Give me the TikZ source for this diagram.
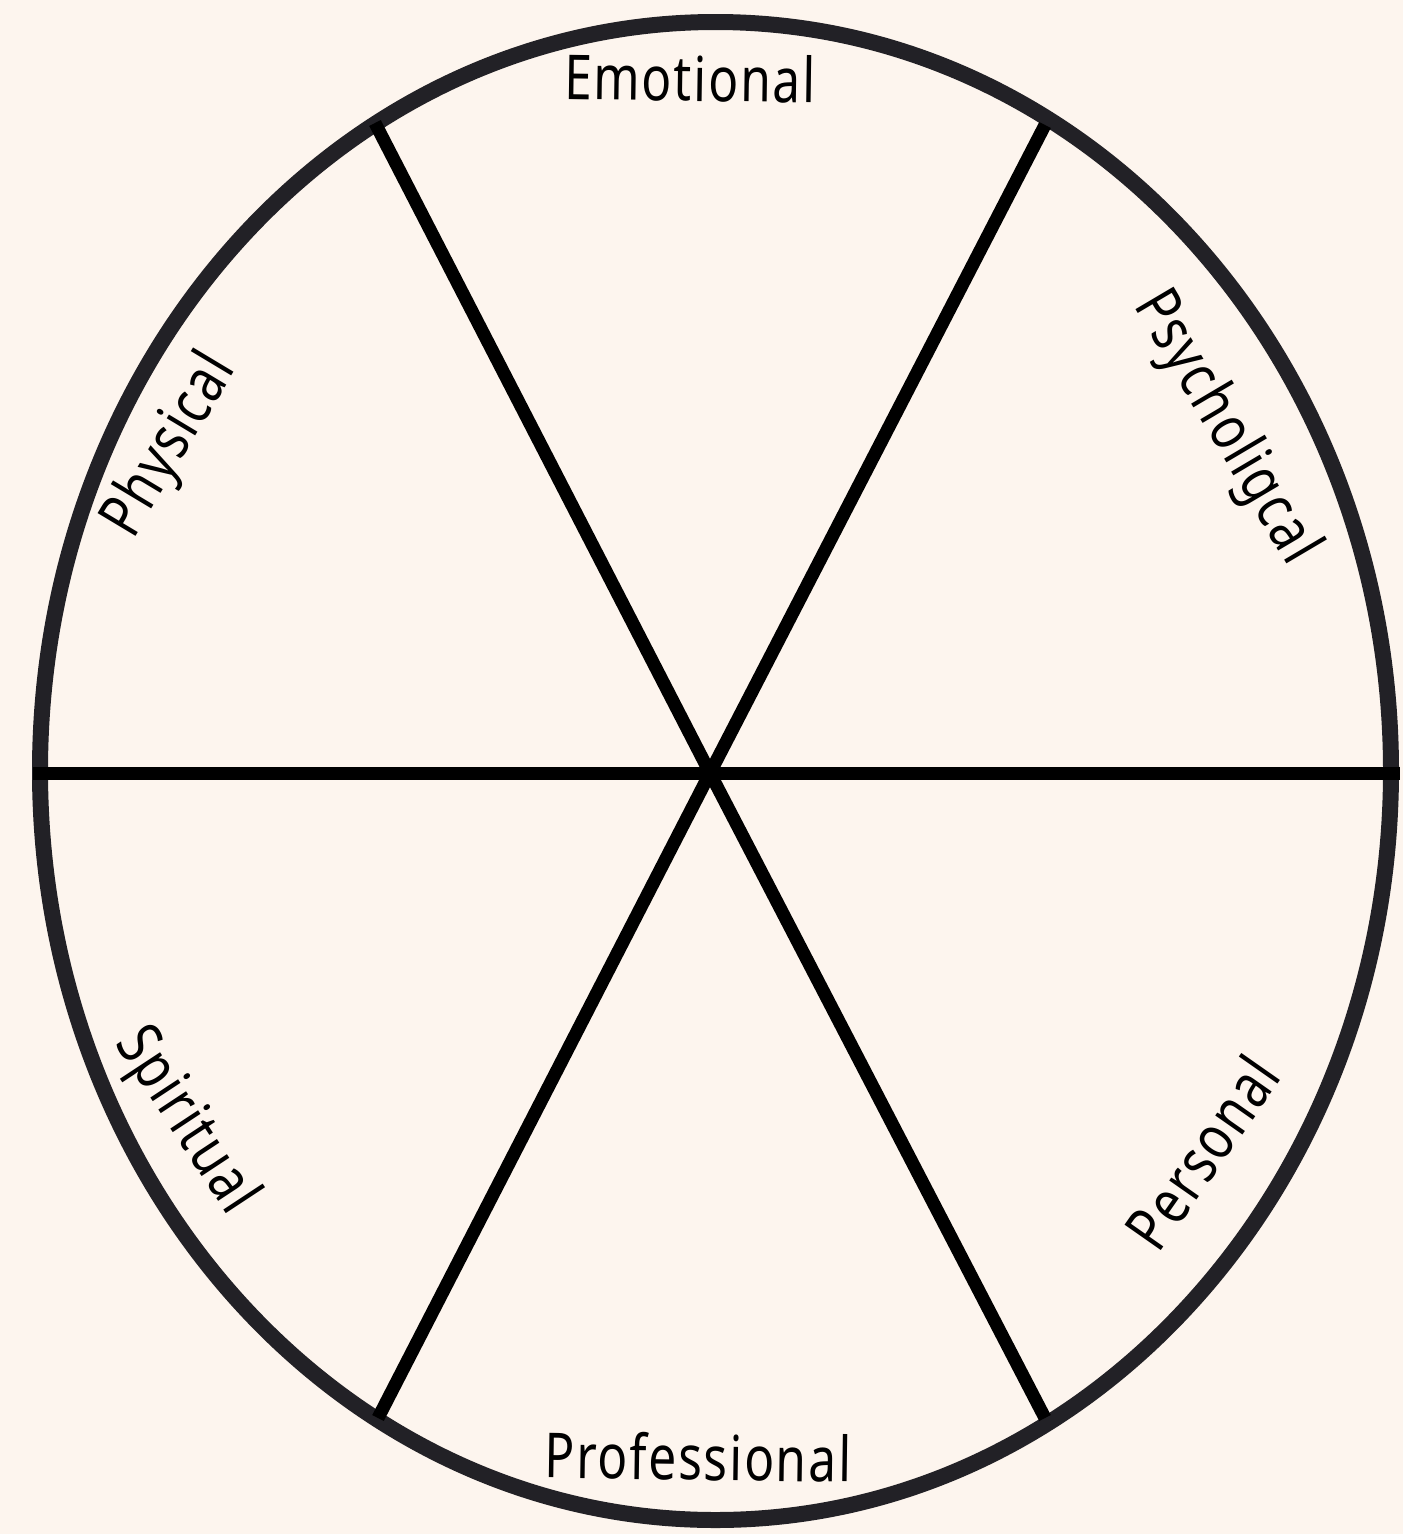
\documentclass[tikz,border=0pt]{standalone}
\usepackage{fontspec}
\setmainfont{Noto Sans}[FakeStretch=0.8,LetterSpace=3]
\definecolor{bg}{HTML}{FDF5EE}
\definecolor{rim}{HTML}{222126}
\begin{document}
\begin{tikzpicture}[x=1pt,y=-1pt,
  spoke/.style={line width=13pt,black},
  rimline/.style={line width=16pt,draw=rim},
  lbl/.style={font=\fontsize{62}{62}\selectfont,inner sep=0pt,text height=44pt,text depth=0pt,anchor=center}]
\fill[bg] (0,0) rectangle (1403,1534);
\useasboundingbox (0,0) rectangle (1403,1534);
\draw[rimline] (715.5,771) ellipse [x radius=675.5, y radius=749];
\coordinate (c) at (710,773);
\coordinate (w) at (33,773);
\coordinate (e) at (1400,773);
\coordinate (nw) at (375,123);
\coordinate (ne) at (1045,125);
\coordinate (sw) at (378,1418);
\coordinate (se) at (1045,1418);
\draw[spoke] (w) -- (e);
\draw[spoke] (nw) -- (c) -- (se);
\draw[spoke] (ne) -- (c) -- (sw);
\node[lbl,rotate=-0.8] (emo) at (690,79) {Emotional};
\node[lbl,rotate=-59.4] (psy) at (1230,425) {Psycholigcal};
\node[lbl,rotate=59] (phy) at (166,443) {Physical};
\node[lbl,rotate=-56.6] (spi) at (190,1118) {Spiritual};
\node[lbl,rotate=55] (per) at (1203,1153) {Personal};
\node[lbl,rotate=-0.8] (pro) at (698,1458) {Professional};
\end{tikzpicture}
\end{document}
